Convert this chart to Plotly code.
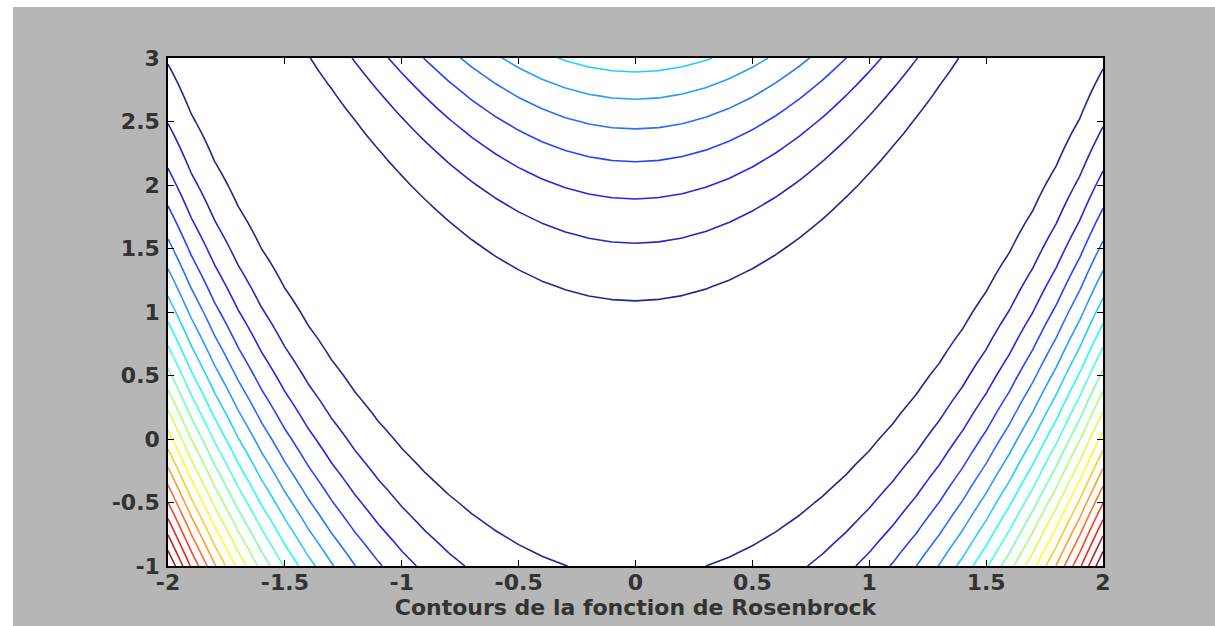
import numpy as np
import plotly.graph_objects as go

# Grid of the Rosenbrock function (as in the MATLAB demo)
x_vals = np.round(np.arange(-2.0, 2.0001, 0.1), 3)
y_vals = np.round(np.arange(-1.0, 3.0001, 0.1), 3)
X, Y = np.meshgrid(x_vals, y_vals)
Z = 100 * (Y - X**2) ** 2 + (1 - X) ** 2

# 20 contour levels evenly spread between min and max
z_min = float(Z.min())
z_max = float(Z.max())
n_levels = 20
level_step = (z_max - z_min) / (n_levels + 1)

x_ticks = [-2, -1.5, -1, -0.5, 0, 0.5, 1, 1.5, 2]
x_ticklabels = ["-2", "-1.5", "-1", "-0.5", "0", "0.5", "1", "1.5", "2"]
y_ticks = [-1, -0.5, 0, 0.5, 1, 1.5, 2, 2.5, 3]
y_ticklabels = ["-1", "-0.5", "0", "0.5", "1", "1.5", "2", "2.5", "3"]
x_label = "Contours de la fonction de Rosenbrock"

matlab_jet = [
    [0.0, "rgb(0,0,128)"],
    [0.125, "rgb(0,0,255)"],
    [0.375, "rgb(0,255,255)"],
    [0.625, "rgb(255,255,0)"],
    [0.875, "rgb(255,0,0)"],
    [1.0, "rgb(128,0,0)"],
]

fig = go.Figure(
    go.Contour(
        x=x_vals,
        y=y_vals,
        z=Z,
        zmin=z_min,
        zmax=z_max,
        colorscale=matlab_jet,
        showscale=False,
        opacity=0.85,
        contours=dict(
            coloring="lines",
            start=z_min + level_step,
            end=z_min + n_levels * level_step + 1e-6,
            size=level_step,
        ),
        line=dict(width=1.6, smoothing=0),
        hoverinfo="skip",
    )
)

W, H = 1215, 626
ml, mr, mt, mb = 168, 112, 58, 60
pw, ph = W - ml - mr, H - mt - mb
grey = "#b5b6b5"
txt_font = dict(family="DejaVu Sans, Verdana, sans-serif", size=22, color="#333333", weight="bold")

fig.update_layout(
    width=W,
    height=H,
    margin=dict(l=ml, r=mr, t=mt, b=mb),
    paper_bgcolor=grey,
    plot_bgcolor="white",
    font=txt_font,
    showlegend=False,
    shapes=[
        dict(type="rect", xref="paper", yref="paper",
             x0=-ml / pw, x1=(13 - ml) / pw, y0=-mb / ph - 0.05, y1=1 + mt / ph + 0.05,
             fillcolor="white", line=dict(width=0), layer="below"),
        dict(type="rect", xref="paper", yref="paper",
             x0=-ml / pw, x1=1 + mr / pw + 0.05, y0=1 + (mt - 7) / ph, y1=1 + mt / ph + 0.05,
             fillcolor="white", line=dict(width=0), layer="below"),
    ],
)

fig.update_xaxes(
    range=[-2, 2],
    tickvals=x_ticks,
    ticktext=x_ticklabels,
    ticks="inside",
    ticklen=6,
    tickcolor="black",
    showline=True,
    linecolor="black",
    linewidth=1.5,
    mirror="ticks",
    showgrid=False,
    zeroline=False,
    tickfont=txt_font,
    ticklabelstandoff=-4,
    title=dict(text=x_label, standoff=0, font=txt_font),
)
fig.update_yaxes(
    range=[-1, 3],
    tickvals=y_ticks,
    ticktext=y_ticklabels,
    ticks="inside",
    ticklen=6,
    tickcolor="black",
    showline=True,
    linecolor="black",
    linewidth=1.5,
    mirror="ticks",
    showgrid=False,
    zeroline=False,
    tickfont=txt_font,
    ticklabelstandoff=2,
)

fig.write_html("out.html")
